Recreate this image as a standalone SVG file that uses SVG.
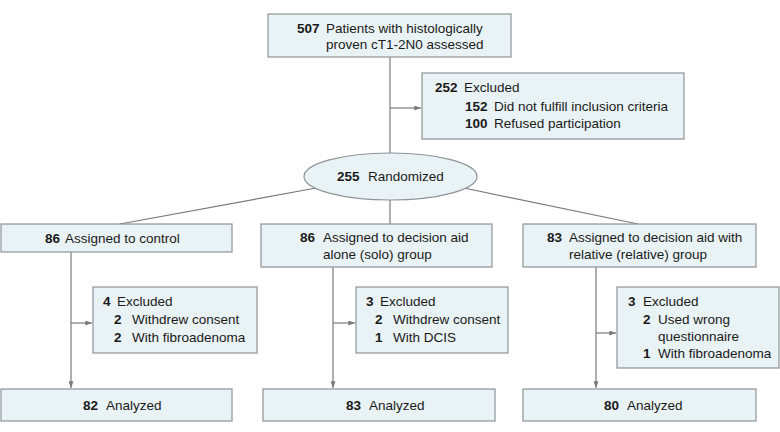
<svg xmlns="http://www.w3.org/2000/svg" width="780" height="432" viewBox="0 0 780 432">
<defs>
<marker id="ah" viewBox="0 0 8 6" refX="8" refY="3" markerWidth="7" markerHeight="5" markerUnits="userSpaceOnUse" orient="auto">
<path d="M0,0 L8,3 L0,6 Z" fill="#7a7a7a"/>
</marker>
</defs>
<style>
.box{fill:#e9f2f4;stroke:#8e9396;stroke-width:1.2}
.ln{stroke:#7a7a7a;stroke-width:1.2;fill:none}
.ar{stroke:#7a7a7a;stroke-width:1.2;fill:none;marker-end:url(#ah)}
text{font-family:"Liberation Sans",Arial,sans-serif;font-size:13.5px;fill:#1a1a1a}
.b{font-weight:bold}
</style>
<rect width="780" height="432" fill="#ffffff"/>
<g id="connectors">
<line class="ln" x1="390" y1="57" x2="390" y2="153"/>
<line class="ar" x1="390" y1="108" x2="421" y2="108"/>
<line class="ln" x1="316" y1="188" x2="120" y2="224"/>
<line class="ln" x1="390" y1="200" x2="390" y2="224"/>
<line class="ln" x1="464" y1="188" x2="638" y2="224"/>
<line class="ar" x1="71" y1="252" x2="71" y2="388"/>
<line class="ar" x1="71" y1="323" x2="92" y2="323"/>
<line class="ar" x1="333" y1="267" x2="333" y2="388"/>
<line class="ar" x1="333" y1="323" x2="355" y2="323"/>
<line class="ar" x1="596" y1="267" x2="596" y2="388"/>
<line class="ar" x1="596" y1="333" x2="616" y2="333"/>
</g>
<g id="assessed">
<rect class="box" x="268" y="14" width="243" height="43"/>
<text x="297" y="33"><tspan class="b">507</tspan><tspan x="326">Patients with histologically</tspan></text>
<text x="326" y="49">proven cT1-2N0 assessed</text>
</g>
<g id="excluded-main">
<rect class="box" x="422" y="73" width="262" height="66"/>
<text x="435" y="92"><tspan class="b">252</tspan><tspan x="464">Excluded</tspan></text>
<text x="465" y="111"><tspan class="b">152</tspan><tspan x="494">Did not fulfill inclusion criteria</tspan></text>
<text x="465" y="128"><tspan class="b">100</tspan><tspan x="494">Refused participation</tspan></text>
</g>
<g id="randomized">
<ellipse class="box" cx="390.5" cy="176.5" rx="86.5" ry="23.5"/>
<text x="337" y="181"><tspan class="b">255</tspan><tspan x="368">Randomized</tspan></text>
</g>
<g id="control">
<rect class="box" x="1" y="224" width="231" height="28"/>
<text x="45" y="243"><tspan class="b">86</tspan><tspan x="65">Assigned to control</tspan></text>
</g>
<g id="solo">
<rect class="box" x="261" y="224" width="231" height="43"/>
<text x="300" y="242"><tspan class="b">86</tspan><tspan x="323">Assigned to decision aid</tspan></text>
<text x="323" y="259">alone (solo) group</text>
</g>
<g id="relative">
<rect class="box" x="523" y="224" width="233" height="43"/>
<text x="547" y="242"><tspan class="b">83</tspan><tspan x="569">Assigned to decision aid with</tspan></text>
<text x="569" y="259">relative (relative) group</text>
</g>
<g id="excluded-control">
<rect class="box" x="93" y="287" width="164" height="66"/>
<text x="103" y="306"><tspan class="b">4</tspan><tspan x="117">Excluded</tspan></text>
<text x="114" y="324"><tspan class="b">2</tspan><tspan x="132">Withdrew consent</tspan></text>
<text x="114" y="342"><tspan class="b">2</tspan><tspan x="132">With fibroadenoma</tspan></text>
</g>
<g id="excluded-solo">
<rect class="box" x="356" y="287" width="152" height="66"/>
<text x="366" y="306"><tspan class="b">3</tspan><tspan x="380">Excluded</tspan></text>
<text x="375" y="324"><tspan class="b">2</tspan><tspan x="393">Withdrew consent</tspan></text>
<text x="375" y="342"><tspan class="b">1</tspan><tspan x="393">With DCIS</tspan></text>
</g>
<g id="excluded-relative">
<rect class="box" x="617" y="287" width="162" height="81"/>
<text x="628" y="306"><tspan class="b">3</tspan><tspan x="643">Excluded</tspan></text>
<text x="643" y="324"><tspan class="b">2</tspan><tspan x="658">Used wrong</tspan></text>
<text x="658" y="341">questionnaire</text>
<text x="643" y="358"><tspan class="b">1</tspan><tspan x="658">With fibroadenoma</tspan></text>
</g>
<g id="analyzed-control">
<rect class="box" x="1" y="389" width="231" height="32"/>
<text x="83" y="410"><tspan class="b">82</tspan><tspan x="106">Analyzed</tspan></text>
</g>
<g id="analyzed-solo">
<rect class="box" x="263" y="389" width="232" height="32"/>
<text x="346" y="410"><tspan class="b">83</tspan><tspan x="369">Analyzed</tspan></text>
</g>
<g id="analyzed-relative">
<rect class="box" x="523" y="389" width="233" height="32"/>
<text x="604" y="410"><tspan class="b">80</tspan><tspan x="627">Analyzed</tspan></text>
</g>
</svg>
